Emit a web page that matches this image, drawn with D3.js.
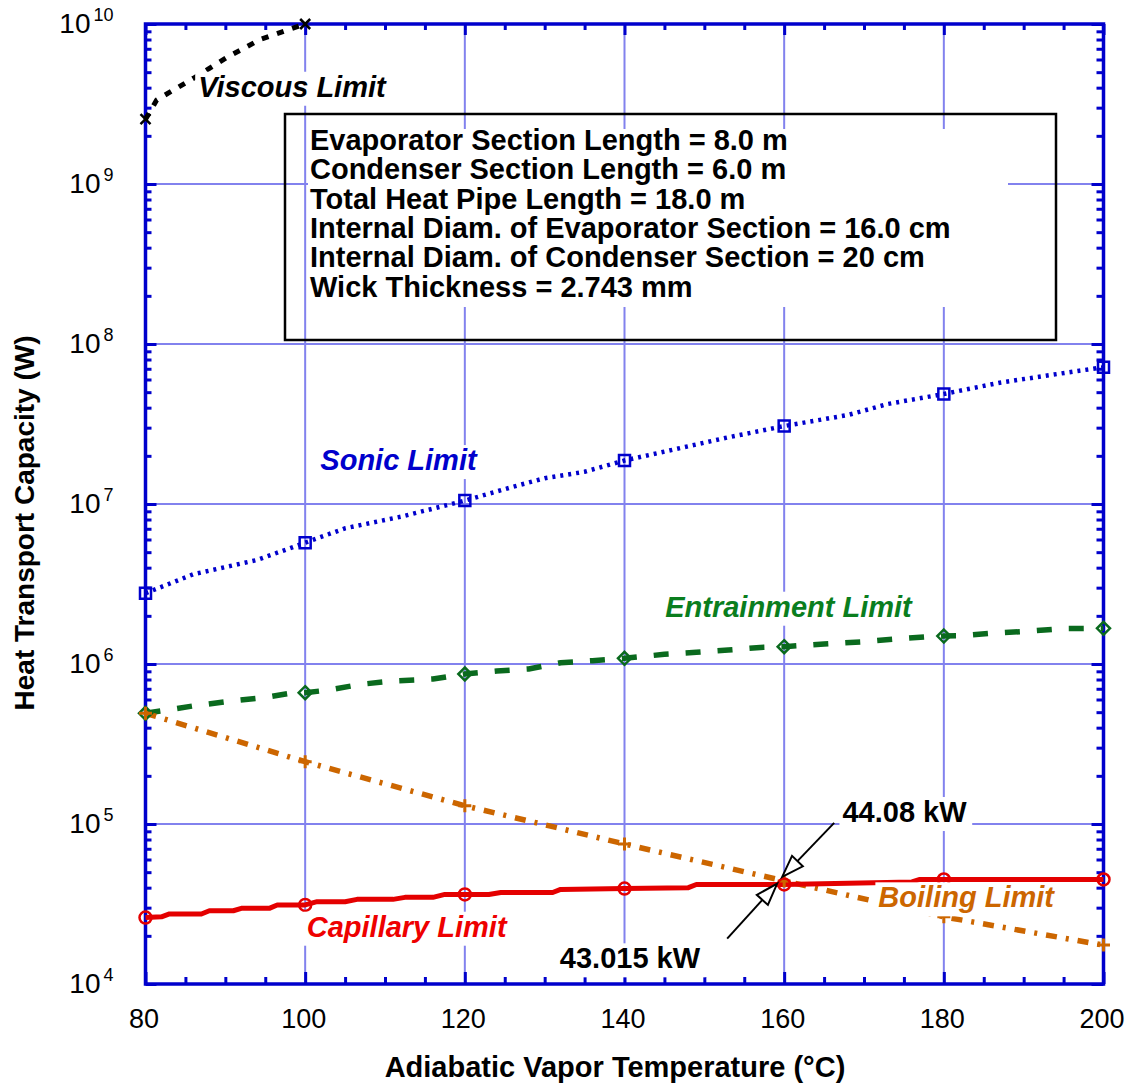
<!DOCTYPE html>
<html><head><meta charset="utf-8">
<script src="https://cdn.jsdelivr.net/npm/d3@7"></script>
<style>
body{margin:0;background:#fff}
text{font-family:"Liberation Sans",Arial,Helvetica,sans-serif}
</style>
</head><body>
<svg id="chart" width="1126" height="1089"></svg>
<script>
// ---------------- data ----------------
const markerTemps = [80, 100, 120, 140, 160, 180, 200];
const xTickValues = [80, 100, 120, 140, 160, 180, 200];
const xTickLabels = ["80", "100", "120", "140", "160", "180", "200"];
const xMinorTicks = [85, 90, 95, 105, 110, 115, 125, 130, 135, 145, 150, 155, 165, 170, 175, 185, 190, 195];
const yTickValues = [1e4, 1e5, 1e6, 1e7, 1e8, 1e9, 1e10];
const yTickExponents = ["4", "5", "6", "7", "8", "9", "10"];

const viscousT = [80, 81.4, 86, 90.2, 94.4, 100];
const viscousW = [2.54e9, 3.35e9, 4.58e9, 6.19e9, 8.02e9, 1.0e10];

const sonicT = [80, 86, 94, 100, 105, 112, 120, 126, 130, 135, 140, 153, 160, 168, 173, 180, 187, 197, 200];
const sonicW = [2.77e6, 3.64e6, 4.47e6, 5.73e6, 7.05e6, 8.33e6, 1.05e7, 1.28e7, 1.45e7, 1.59e7, 1.87e7, 2.61e7, 3.07e7, 3.60e7, 4.22e7, 4.87e7, 5.73e7, 6.81e7, 7.15e7];

const entrainT = [80, 82, 86, 90, 95, 98, 100, 103, 107, 111, 116, 120, 124, 128, 132, 136, 140, 145, 149, 153, 157, 160, 165, 170, 174, 178, 180, 182, 186, 191, 195, 200];
const entrainW = [4.92e5, 5.09e5, 5.47e5, 5.81e5, 6.19e5, 6.55e5, 6.62e5, 6.88e5, 7.47e5, 7.83e5, 8.06e5, 8.66e5, 9.04e5, 9.31e5, 1.019e6, 1.049e6, 1.085e6, 1.150e6, 1.183e6, 1.223e6, 1.270e6, 1.283e6, 1.334e6, 1.379e6, 1.433e6, 1.480e6, 1.496e6, 1.500e6, 1.556e6, 1.608e6, 1.665e6, 1.672e6];

const boilingT = [80, 100, 120, 131, 140, 147, 160, 180, 200];
const boilingW = [4.92e5, 2.45e5, 1.30e5, 9.62e4, 7.50e4, 6.22e4, 4.41e4, 2.63e4, 1.75e4];

const capillaryT = [80, 82, 83, 87, 88, 91, 92, 95.5, 96.5, 100, 101.5, 105, 106.5, 111, 112.5, 116, 117.5, 120, 123, 124.5, 131, 132, 140, 148, 149, 160, 176, 177, 180, 200];
const capillaryW = [2.60e4, 2.63e4, 2.74e4, 2.74e4, 2.87e4, 2.87e4, 2.97e4, 2.97e4, 3.12e4, 3.12e4, 3.27e4, 3.27e4, 3.38e4, 3.38e4, 3.48e4, 3.48e4, 3.63e4, 3.63e4, 3.63e4, 3.73e4, 3.73e4, 3.90e4, 3.95e4, 4.00e4, 4.19e4, 4.19e4, 4.34e4, 4.50e4, 4.50e4, 4.50e4];

const infoLines = [
  "Evaporator Section Length = 8.0 m",
  "Condenser Section Length = 6.0 m",
  "Total Heat Pipe Length = 18.0 m",
  "Internal Diam. of Evaporator Section = 16.0 cm",
  "Internal Diam. of Condenser Section = 20 cm",
  "Wick Thickness = 2.743 mm"
];

const xTitle = "Adiabatic Vapor Temperature (°C)";
const yTitle = "Heat Transport Capacity (W)";
const boilingAtCross = 44080;    // W, annotated
const capillaryAtCross = 43015;  // W, annotated
const crossTemp = 160;

// ---------------- layout ----------------
const svg = d3.select("#chart");
const x = d3.scaleLinear().domain([80, 200]).range([145.5, 1103.5]);
const y = d3.scaleLog().domain([1e4, 1e10]).range([984, 24]);
const X0 = x.range()[0], X1 = x.range()[1], Y0 = y.range()[0], Y1 = y.range()[1];

const frameColor = "#0000cc";
const gridColor = "#8282ee";
const zip = (T, V) => T.map((t, i) => ({t, v: V[i]}));

svg.append("rect").attr("width", 1126).attr("height", 1089).attr("fill", "#fff");

// gridlines
const grid = svg.append("g");
grid.selectAll("line.gx").data(xTickValues.slice(1, -1)).join("line")
  .attr("x1", d => x(d)).attr("x2", d => x(d)).attr("y1", Y0).attr("y2", Y1)
  .attr("stroke", gridColor).attr("stroke-width", 2);
grid.selectAll("line.gy").data(yTickValues.slice(1, -1)).join("line")
  .attr("y1", d => y(d)).attr("y2", d => y(d)).attr("x1", X0).attr("x2", X1)
  .attr("stroke", gridColor).attr("stroke-width", 2);

// axes
const yMinor = [];
for (let k = 4; k < 10; k++) for (let m = 2; m <= 9; m++) yMinor.push(m * Math.pow(10, k));

function styleAxis(g) {
  g.select(".domain").remove();
  g.selectAll(".tick line").attr("stroke", frameColor).attr("stroke-width", 3);
}
const axG = svg.append("g");
// bottom
axG.append("g").attr("transform", `translate(0,${Y0})`)
  .call(d3.axisBottom(x).tickValues(xMinorTicks).tickSize(-7).tickFormat(""))
  .call(styleAxis).selectAll("text").remove();
axG.append("g").attr("transform", `translate(0,${Y0})`)
  .call(d3.axisBottom(x).tickValues(xTickValues).tickSize(-12).tickPadding(25)
    .tickFormat((d, i) => xTickLabels[i]))
  .call(styleAxis)
  .call(g => g.selectAll(".tick text").attr("fill", "#000").attr("font-size", 27).attr("dx", -2));
// top
axG.append("g").attr("transform", `translate(0,${Y1})`)
  .call(d3.axisTop(x).tickValues(xMinorTicks).tickSize(-6).tickFormat(""))
  .call(styleAxis);
axG.append("g").attr("transform", `translate(0,${Y1})`)
  .call(d3.axisTop(x).tickValues(xTickValues).tickSize(-11).tickFormat(""))
  .call(styleAxis);
// left
axG.append("g").attr("transform", `translate(${X0},0)`)
  .call(d3.axisLeft(y).tickValues(yMinor).tickSize(-6).tickFormat(""))
  .call(styleAxis);
axG.append("g").attr("transform", `translate(${X0},0)`)
  .call(d3.axisLeft(y).tickValues(yTickValues).tickSize(-11).tickPadding(32).tickFormat(""))
  .call(styleAxis)
  .call(g => g.selectAll(".tick text").each(function(d, i) {
    const t = d3.select(this).attr("fill", "#000").attr("font-size", 28);
    t.append("tspan").text("10");
    t.append("tspan").attr("font-size", 18).attr("dx", 3).attr("dy", -12.5).text(yTickExponents[i]);
  }));
// right
axG.append("g").attr("transform", `translate(${X1},0)`)
  .call(d3.axisRight(y).tickValues(yMinor).tickSize(-7).tickFormat(""))
  .call(styleAxis);
axG.append("g").attr("transform", `translate(${X1},0)`)
  .call(d3.axisRight(y).tickValues(yTickValues).tickSize(-12).tickFormat(""))
  .call(styleAxis);
// frame
svg.append("rect").attr("x", X0).attr("y", Y1).attr("width", X1 - X0).attr("height", Y0 - Y1)
  .attr("fill", "none").attr("stroke", frameColor).attr("stroke-width", 3.5);

// axis titles
svg.append("text").attr("x", 615).attr("y", 1077).attr("text-anchor", "middle")
  .attr("font-size", 29).attr("font-weight", "bold").text(xTitle);
svg.append("text").attr("transform", "translate(34,523) rotate(-90)").attr("text-anchor", "middle")
  .attr("font-size", 28).attr("font-weight", "bold").text(yTitle);

// ---------------- series ----------------
const line = d3.line().x(d => x(d.t)).y(d => y(d.v));
const series = [
  {T: viscousT, V: viscousW, color: "#000", w: 5, dash: "7,9", marker: "times", mT: [80, 100]},
  {T: sonicT, V: sonicW, color: "#0000cc", w: 4.5, dash: "3,5", marker: "square", mT: markerTemps},
  {T: entrainT, V: entrainW, color: "#0a6a1e", w: 5.5, dash: "15,17", marker: "diamond", mT: markerTemps},
  {T: boilingT, V: boilingW, color: "#cc6600", w: 5.5, dash: "11,9,3,9", marker: "plus", mT: markerTemps},
  {T: capillaryT, V: capillaryW, color: "#e40000", w: 5, dash: null, marker: "circle", mT: markerTemps}
];
const sg = svg.append("g");
series.forEach(s => {
  sg.append("path").datum(zip(s.T, s.V)).attr("d", line)
    .attr("fill", "none").attr("stroke", s.color).attr("stroke-width", s.w)
    .attr("stroke-dasharray", s.dash).attr("stroke-linejoin", "round");
});
function markerPath(type, cx, cy) {
  const p = d3.path();
  if (type === "square") { p.rect(cx - 5.5, cy - 5.5, 11, 11); }
  else if (type === "diamond") { p.moveTo(cx, cy - 6.5); p.lineTo(cx + 6.5, cy); p.lineTo(cx, cy + 6.5); p.lineTo(cx - 6.5, cy); p.closePath(); }
  else if (type === "plus") { p.moveTo(cx - 6.5, cy); p.lineTo(cx + 6.5, cy); p.moveTo(cx, cy - 6.5); p.lineTo(cx, cy + 6.5); }
  else if (type === "times") { p.moveTo(cx - 5, cy - 5); p.lineTo(cx + 5, cy + 5); p.moveTo(cx + 5, cy - 5); p.lineTo(cx - 5, cy + 5); }
  else if (type === "circle") { p.moveTo(cx + 6, cy); p.arc(cx, cy, 6, 0, 2 * Math.PI); }
  return p.toString();
}
series.forEach(s => {
  const pts = zip(s.T, s.V).filter(d => s.mT.includes(d.t));
  sg.selectAll(null).data(pts).join("path")
    .attr("d", d => markerPath(s.marker, x(d.t), y(d.v)))
    .attr("fill", "none").attr("stroke", s.color)
    .attr("stroke-width", s.marker === "plus" ? 3 : 2.5);
});

// ---------------- info box ----------------
const box = svg.append("g");
box.append("rect").attr("x", 308).attr("y", 129).attr("width", 700).attr("height", 178).attr("fill", "#fff");
box.append("rect").attr("x", 285).attr("y", 114).attr("width", 771).attr("height", 226)
  .attr("fill", "none").attr("stroke", "#000").attr("stroke-width", 2.5);
box.selectAll("text").data(infoLines).join("text")
  .attr("x", 310).attr("y", (d, i) => 150 + i * 29.3)
  .attr("font-size", 29).attr("font-weight", "bold").attr("fill", "#000").text(d => d);

// ---------------- labels ----------------
const labels = [
  {text: "Viscous Limit", t: 86.6, v: 3.51e9, color: "#000", italic: true},
  {text: "Sonic Limit", t: 101.9, v: 1.63e7, color: "#0000cc", italic: true},
  {text: "Entrainment Limit", t: 145.1, v: 1.975e6, color: "#0a7e1e", italic: true},
  {text: "Capillary Limit", t: 100.2, v: 1.975e4, color: "#ee0000", italic: true},
  {text: "Boiling Limit", t: 171.8, v: 3.015e4, color: "#cc6600", italic: true},
  {text: "44.08 kW", t: 167.3, v: 1.029e5, color: "#000", italic: false},
  {text: "43.015 kW", t: 131.9, v: 1.253e4, color: "#000", italic: false}
];
const lg = svg.append("g");
labels.forEach(L => {
  const g = lg.append("g");
  const tx = g.append("text").attr("x", x(L.t)).attr("y", y(L.v))
    .attr("font-size", 29).attr("font-weight", "bold")
    .attr("font-style", L.italic ? "italic" : "normal")
    .attr("fill", L.color).text(L.text);
  const b = tx.node().getBBox();
  g.insert("rect", "text").attr("x", b.x - 3).attr("y", b.y + 1).attr("width", b.width + 8).attr("height", b.height + 2)
    .attr("fill", "#fff");
});

// ---------------- arrows ----------------
function arrow(tip, tail) {
  const g = svg.append("g");
  const dx = tail[0] - tip[0], dy = tail[1] - tip[1];
  const len = Math.hypot(dx, dy), ux = dx / len, uy = dy / len;
  const hl = 22, hw = 7.5;
  const bx = tip[0] + ux * hl, by = tip[1] + uy * hl;
  g.append("line").attr("x1", tail[0]).attr("y1", tail[1]).attr("x2", bx).attr("y2", by)
    .attr("stroke", "#000").attr("stroke-width", 2);
  const p = d3.path();
  p.moveTo(tip[0], tip[1]);
  p.lineTo(bx - uy * hw, by + ux * hw);
  p.lineTo(bx + uy * hw, by - ux * hw);
  p.closePath();
  g.append("path").attr("d", p.toString()).attr("fill", "#fff").attr("stroke", "#000").attr("stroke-width", 2);
}
const tip1 = [x(crossTemp) - 2, y(boilingAtCross) - 4];
arrow(tip1, [tip1[0] + 52, tip1[1] - 54]);
const tip2 = [x(crossTemp) - 7, y(capillaryAtCross) + 1];
arrow(tip2, [tip2[0] - 50, tip2[1] + 55]);
</script>
</body></html>
